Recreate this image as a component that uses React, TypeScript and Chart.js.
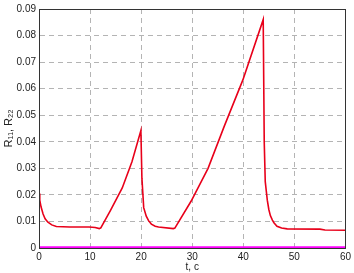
import React, { useEffect, useRef } from "react";
import { Chart, registerables } from "chart.js";

Chart.register(...registerables);

const tValues = [0, 0.15, 0.4, 0.8, 1.2, 1.75, 2.5, 3.4, 6, 9.8, 11, 11.8, 12.1, 14, 16.3, 18.2, 19.95, 20.15, 20.5, 21, 21.45, 22, 22.75, 23.4, 26.3, 26.6, 29.8, 33.1, 36.3, 39.9, 43.9, 44.1, 44.3, 44.7, 45, 45.3, 45.7, 46, 46.6, 47.5, 48.6, 55, 56, 60];
const r11Values = [0.0205, 0.018, 0.0155, 0.0128, 0.011, 0.0097, 0.0087, 0.0081, 0.0079, 0.0079, 0.0077, 0.0073, 0.0076, 0.0142, 0.0226, 0.0325, 0.0442, 0.0263, 0.0152, 0.012, 0.0103, 0.009, 0.0082, 0.0079, 0.0073, 0.0075, 0.0177, 0.030, 0.046, 0.0632, 0.086, 0.040, 0.025, 0.018, 0.0145, 0.0122, 0.0105, 0.0095, 0.0082, 0.0075, 0.0072, 0.0071, 0.0068, 0.0067];
const r22T = [0, 60];
const r22Values = [0.0003, 0.0003];
const xTicks = [0, 10, 20, 30, 40, 50, 60];
const yTicks = [0, 0.01, 0.02, 0.03, 0.04, 0.05, 0.06, 0.07, 0.08, 0.09];

const boxPlugin = {
  id: "box",
  afterDraw(chart: any) {
    const { ctx, chartArea } = chart;
    ctx.save();
    ctx.strokeStyle = "#333";
    ctx.lineWidth = 1;
    ctx.strokeRect(Math.round(chartArea.left) + 0.5, Math.round(chartArea.top) + 0.5, Math.round(chartArea.right - chartArea.left), Math.round(chartArea.bottom - chartArea.top));
    ctx.restore();
  },
};

export default function App() {
  const ref = useRef<HTMLCanvasElement>(null);
  useEffect(() => {
    document.body.style.margin = "0";
    const font = { family: "'Liberation Sans', Arial, sans-serif", size: 10 };
    const chart = new Chart(ref.current!, {
      type: "line",
      data: {
        datasets: [
          {
            data: r22T.map((t, i) => ({ x: t, y: r22Values[i] })),
            borderColor: "#ff00ff",
            borderWidth: 2,
            pointRadius: 0,
          },
          {
            data: tValues.map((t, i) => ({ x: t, y: r11Values[i] })),
            borderColor: "#e8001a",
            borderWidth: 1.6,
            pointRadius: 0,
            tension: 0,
          },
        ],
      },
      options: {
        animation: false,
        responsive: false,
        layout: { padding: { top: 4, right: 5, left: 2, bottom: 0 } },
        plugins: { legend: { display: false }, tooltip: { enabled: false } },
        scales: {
          x: {
            type: "linear",
            min: 0,
            max: 60,
            afterBuildTicks: (s: any) => { s.ticks = xTicks.map((v) => ({ value: v })); },
            afterFit: (s: any) => { s.height = 25; },
            grid: { color: "#b4b4b4", drawTicks: false },
            border: { display: true, color: "#333", dash: [5, 4] },
            ticks: { color: "#222", font, padding: 3, maxRotation: 0 },
            title: { display: true, text: "t, c", color: "#222", font, padding: { top: 0, bottom: 0 } },
          },
          y: {
            min: 0,
            max: 0.09,
            afterBuildTicks: (s: any) => { s.ticks = yTicks.map((v) => ({ value: v })); },
            afterFit: (s: any) => { s.width = 37; },
            grid: { color: "#b4b4b4", drawTicks: false },
            border: { display: true, color: "#333", dash: [5, 4] },
            ticks: { color: "#222", font, padding: 3, callback: (v: any) => String(Math.round(v * 100) / 100) },
            title: { display: true, text: "R₁₁, R₂₂", color: "#222", font: { ...font, size: 11 }, padding: { top: 0, bottom: 1 } },
          },
        },
      },
      plugins: [boxPlugin],
    } as any);
    return () => chart.destroy();
  }, []);
  return (
    <div style={{ width: 354, height: 273 }}>
      <canvas ref={ref} width={354} height={273} style={{ width: 354, height: 273, display: "block" }} />
    </div>
  );
}
